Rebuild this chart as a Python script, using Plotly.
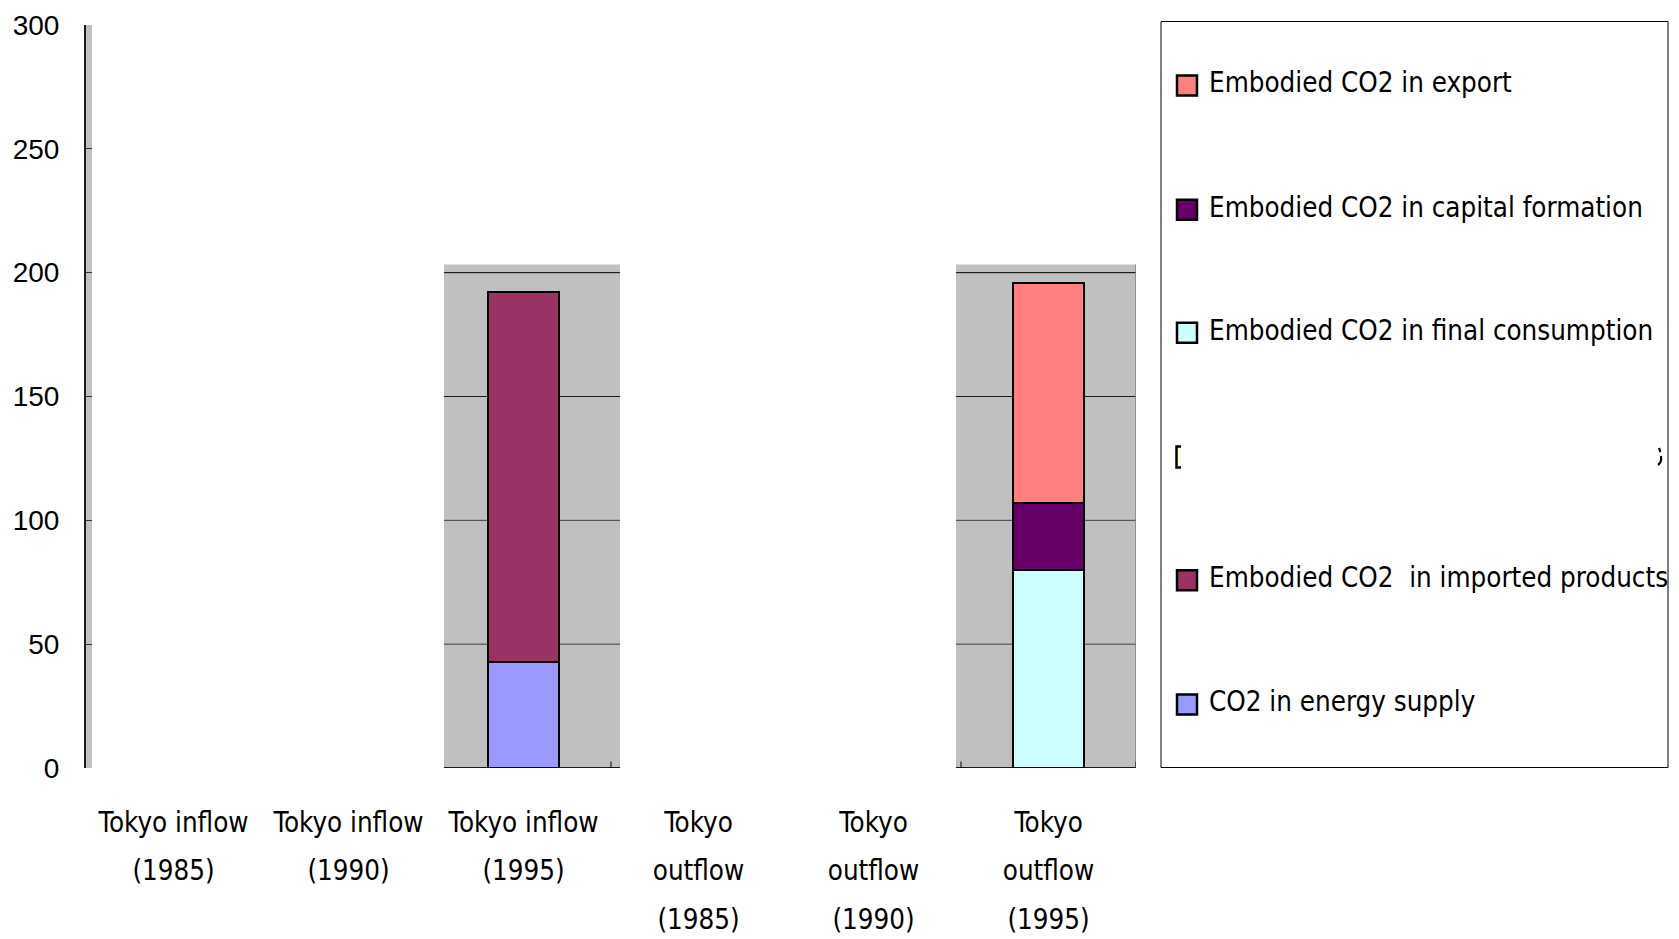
import plotly.graph_objects as go

# ---- data -------------------------------------------------------------
categories = [
    "Tokyo inflow (1985)", "Tokyo inflow (1990)", "Tokyo inflow (1995)",
    "Tokyo outflow (1985)", "Tokyo outflow (1990)", "Tokyo outflow (1995)",
]
tick_lines = [
    ["Tokyo inflow", "(1985)"],
    ["Tokyo inflow", "(1990)"],
    ["Tokyo inflow", "(1995)"],
    ["Tokyo", "outflow", "(1985)"],
    ["Tokyo", "outflow", "(1990)"],
    ["Tokyo", "outflow", "(1995)"],
]

# stacked from the bottom up (Mt-CO2)
energy_supply = [None, None, 43, None, None, None]
imported_products = [None, None, 149, None, None, None]
final_consumption = [None, None, None, None, None, 80]
capital_formation = [None, None, None, None, None, 27]
export = [None, None, None, None, None, 89]

series_names = [
    "CO2 in energy supply",
    "Embodied CO2  in imported products",
    "Embodied CO2 in final consumption",
    "Embodied CO2 in capital formation",
    "Embodied CO2 in export",
]
series_values = [energy_supply, imported_products, final_consumption,
                 capital_formation, export]
series_colors = ["#9999FF", "#993366", "#CCFFFF", "#660066", "#FF8080"]

y_ticks = [0, 50, 100, 150, 200, 250, 300]

# ---- geometry ---------------------------------------------------------
W, H = 1679, 939
L, R, T, B = 86, 1136, 25, 768          # plot area in pixels
CAT_W = (R - L) / 6
NARROW = "DejaVu Sans Condensed, Liberation Sans, sans-serif"
REGULAR = "Liberation Sans, Arial, sans-serif"
TXT = 27.5


def px(x):
    return (x - L) / (R - L)


def py(y):
    return (B - y) / (B - T)


def cx(x):
    """pixel column -> category-axis coordinate"""
    return (x - L) / CAT_W - 0.5


x_pos = list(range(len(categories)))

fig = go.Figure()
for name, vals, col in zip(series_names, series_values, series_colors):
    fig.add_trace(go.Bar(
        x=x_pos, y=vals, name=name, width=0.405,
        marker=dict(color=col, line=dict(color="#000000", width=2)),
        showlegend=False,
    ))

shapes = []
# y-axis wall strip
shapes.append(dict(type="rect", xref="paper", yref="y", x0=0, x1=px(92),
                   y0=0, y1=300, fillcolor="#C0C0C0", line_width=0,
                   layer="below"))

# shaded panels behind the 1995 columns, with their gridlines
panels = [(cx(444), cx(620)), (cx(956), 5.5)]
for x0, x1 in panels:
    shapes.append(dict(type="rect", xref="x", yref="y", x0=x0, x1=x1,
                       y0=0, y1=203.3, fillcolor="#C0C0C0", line_width=0,
                       layer="below"))
    for gv, gc in [(50, "#404040"), (100, "#404040"), (150, "#1a1a1a"),
                   (200, "#000000")]:
        shapes.append(dict(type="line", xref="x", yref="y", x0=x0, x1=x1,
                           y0=gv, y1=gv, line=dict(color=gc, width=1),
                           layer="below"))
    shapes.append(dict(type="line", xref="x", yref="y", x0=x0, x1=x1,
                       y0=0, y1=0, line=dict(color="#1a1a1a", width=2),
                       layer="below"))
shapes.append(dict(type="line", xref="x", yref="y", x0=5.5, x1=5.5,
                   y0=0, y1=203.3, line=dict(color="#808080", width=1.5),
                   layer="below"))
for bx in [2.5, 4.5, 5.5]:
    shapes.append(dict(type="line", xref="x", yref="y", x0=bx, x1=bx,
                       y0=0, y1=2.6, line=dict(color="#000000", width=1),
                       layer="below"))

# legend frame
shapes.append(dict(type="rect", xref="paper", yref="paper",
                   x0=px(1161), x1=px(1668), y0=py(767.5), y1=py(21.5),
                   fillcolor="#FFFFFF", line=dict(color="#000000", width=1)))

annotations = []
legend_rows = [82.4, 206.7, 329.8, 454.0, 577.2, 701.4]
legend_entries = [(series_names[i], series_colors[i]) for i in (4, 3, 2)]
legend_entries += [None]
legend_entries += [(series_names[i], series_colors[i]) for i in (1, 0)]
for yc, entry in zip(legend_rows, legend_entries):
    if entry is None:
        # masked row: only the left edge of its key and a glyph tail remain
        shapes.append(dict(type="rect", xref="paper", yref="paper",
                           x0=px(1176.5), x1=px(1181), y0=py(467.5),
                           y1=py(446.5), fillcolor="#FFFFCC", line_width=0))
        shapes.append(dict(type="path", xref="paper", yref="paper",
                           path=(f"M {px(1181)},{py(446.5)} L {px(1176.5)},{py(446.5)} "
                                 f"L {px(1176.5)},{py(467.5)} L {px(1181)},{py(467.5)}"),
                           line=dict(color="#000000", width=2.5)))
        shapes.append(dict(type="path", xref="paper", yref="paper",
                           path=(f"M {px(1659)},{py(448)} L {px(1660.5)},{py(452)} "
                                 f"M {px(1661)},{py(456)} Q {px(1662)},{py(462)} "
                                 f"{px(1658)},{py(465)}"),
                           line=dict(color="#000000", width=2.2)))
        continue
    name, col = entry
    shapes.append(dict(type="rect", xref="paper", yref="paper",
                       x0=px(1177), x1=px(1197), y0=py(yc + 13), y1=py(yc - 7),
                       fillcolor=col, line=dict(color="#000000", width=2.5)))
    annotations.append(dict(xref="paper", yref="paper", x=px(1207), y=py(yc),
                            xanchor="left", yanchor="middle", text=name,
                            showarrow=False,
                            font=dict(family=NARROW, size=TXT, color="#000000")))

tick_text = ["<br>".join(f'<span style="font-size:{TXT}px">{s}</span>' for s in ln)
             for ln in tick_lines]

fig.update_layout(
    width=W, height=H,
    margin=dict(l=L, r=W - R, t=T, b=H - B, pad=0, autoexpand=False),
    paper_bgcolor="#FFFFFF", plot_bgcolor="rgba(0,0,0,0)",
    barmode="stack", showlegend=False,
    shapes=shapes, annotations=annotations,
    xaxis=dict(range=[-0.5, 5.5], tickvals=x_pos,
               ticktext=tick_text, showgrid=False, zeroline=False,
               showline=False, ticks="", tickangle=0, automargin=False,
               ticklabelstandoff=25,
               tickfont=dict(family=NARROW, size=37.5, color="#000000")),
    yaxis=dict(range=[0, 300], tickvals=y_ticks, showgrid=False,
               zeroline=False, showline=True, linecolor="#1a1a1a",
               linewidth=2, ticks="inside", ticklen=6, tickwidth=1,
               tickcolor="#333333", ticklabelstandoff=19, automargin=False,
               tickfont=dict(family=REGULAR, size=28, color="#000000")),
)

fig.write_html("out.html")
